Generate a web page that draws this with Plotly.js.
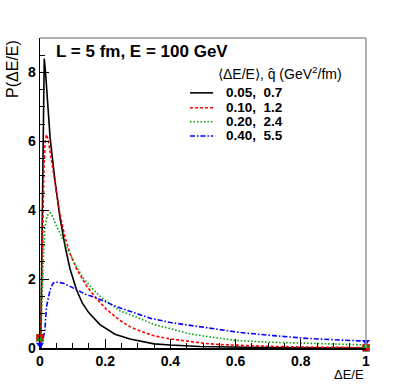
<!DOCTYPE html>
<html>
<head>
<meta charset="utf-8">
<script src="https://cdn.plot.ly/plotly-3.0.1.min.js"></script>
<style>
  html, body { margin: 0; padding: 0; background: #fff; }
  #grafico { width: 407px; height: 387px; }
</style>
</head>
<body>
<div id="grafico"></div>
<script>
// Energy-loss probability P(ΔE/E), L = 5 fm, E = 100 GeV, four quenching strengths

const labels = ['0.05,\u00a0 0.7', '0.10,\u00a0 1.2', '0.20,\u00a0 2.4', '0.40,\u00a0 5.5'];
const colors = ['#000000', '#ff0000', '#00a000', '#0000ff'];
const dashes = ['solid', '3px,2px', '1.5px,2px', '5px,2px,1.5px,2px'];
const markerSymbols = ['square', 'square', 'triangle-up', 'triangle-down'];

// continuous part of each distribution
const xBlack = [0.002, 0.006, 0.010, 0.013, 0.017, 0.022, 0.031, 0.046, 0.061, 0.077, 0.092, 0.112, 0.13, 0.15, 0.184, 0.23, 0.276, 0.35, 0.4, 0.49, 0.6, 0.7, 0.8, 0.9, 1.0];
const yBlack = [0, 3.0, 5.9, 8.4, 8.0, 7.2, 6.1, 4.85, 3.8, 2.95, 2.3, 1.69, 1.3, 1.02, 0.68, 0.4, 0.26, 0.12, 0.085, 0.045, 0.02, 0.012, 0.006, 0.003, 0.001];

const xRed = [0.002, 0.006, 0.012, 0.016, 0.02, 0.025, 0.03, 0.036, 0.046, 0.061, 0.077, 0.092, 0.112, 0.143, 0.17, 0.204, 0.245, 0.276, 0.3, 0.347, 0.4, 0.45, 0.5, 0.55, 0.6, 0.7, 0.8, 0.9, 1.0];
const yRed = [0, 2.5, 5.2, 6.0, 6.2, 6.05, 5.75, 5.4, 4.9, 3.9, 3.2, 2.75, 2.3, 1.8, 1.47, 1.12, 0.8, 0.62, 0.52, 0.36, 0.26, 0.19, 0.14, 0.1, 0.08, 0.05, 0.03, 0.02, 0.012];

const xGreen = [0.002, 0.006, 0.010, 0.015, 0.022, 0.031, 0.04, 0.046, 0.056, 0.066, 0.08, 0.095, 0.112, 0.135, 0.164, 0.19, 0.225, 0.245, 0.3, 0.35, 0.4, 0.45, 0.5, 0.55, 0.6, 0.7, 0.8, 0.9, 1.0];
const yGreen = [0, 1.5, 2.6, 3.5, 3.85, 3.93, 3.8, 3.63, 3.45, 3.24, 2.95, 2.65, 2.36, 2.0, 1.69, 1.45, 1.2, 1.08, 0.88, 0.68, 0.56, 0.43, 0.35, 0.28, 0.22, 0.17, 0.14, 0.11, 0.09];

const xBlue = [0.002, 0.008, 0.015, 0.02, 0.031, 0.04, 0.046, 0.055, 0.072, 0.09, 0.112, 0.14, 0.17, 0.2, 0.235, 0.29, 0.34, 0.4, 0.45, 0.5, 0.552, 0.613, 0.715, 0.818, 0.9, 1.0];
const yBlue = [0, 0.2, 0.52, 1.2, 1.69, 1.88, 1.92, 1.91, 1.88, 1.8, 1.69, 1.56, 1.47, 1.35, 1.2, 1.02, 0.86, 0.74, 0.67, 0.6, 0.53, 0.45, 0.36, 0.28, 0.24, 0.2];

// discrete weights at ΔE/E = 0 and ΔE/E = 1
const xEnds = [0, 1];
const endBlack = [0.3, 0.0];
const endRed = [0.3, 0.02];
const endGreen = [0.25, 0.05];
const endBlue = [0.1, 0.18];

const xSeries = [xBlack, xRed, xGreen, xBlue];
const ySeries = [yBlack, yRed, yGreen, yBlue];
const endSeries = [endBlack, endRed, endGreen, endBlue];

const traces = [];
for (let i = 0; i < 4; i++) {
    traces.push({
        x: xSeries[i],
        y: ySeries[i],
        type: 'scatter',
        mode: 'lines',
        line: { color: colors[i], width: 1.6, dash: dashes[i] },
        showlegend: false,
        cliponaxis: false
    });
}
for (let i = 0; i < 4; i++) {
    traces.push({
        x: xEnds,
        y: endSeries[i],
        type: 'scatter',
        mode: 'markers',
        marker: { color: colors[i], size: 7, symbol: markerSymbols[i] },
        showlegend: false,
        cliponaxis: false
    });
}

const font = 'Liberation Sans, Arial, sans-serif';

// frame (gray top/right like ROOT) and hand-made legend
const shapes = [
    { type: 'line', xref: 'paper', yref: 'paper', x0: 0, x1: 1, y0: 1, y1: 1, line: { color: '#999', width: 1.5 } },
    { type: 'line', xref: 'paper', yref: 'paper', x0: 1, x1: 1, y0: 0, y1: 1, line: { color: '#999', width: 1.5 } }
];
const annotations = [
    { xref: 'paper', yref: 'paper', x: 0.043, y: 0.955, xanchor: 'left', yanchor: 'middle', showarrow: false,
      text: '<b>L = 5 fm, E = 100 GeV</b>', font: { family: font, size: 17, color: '#000' } },
    { xref: 'paper', yref: 'paper', x: 0.54, y: 0.887, xanchor: 'left', yanchor: 'middle', showarrow: false,
      text: '\u27e8\u0394E/E\u27e9, q\u0302 (GeV<sup>2</sup>/fm)', font: { family: font, size: 14, color: '#000' } },
    { xref: 'paper', yref: 'paper', x: -0.086, y: 1, xanchor: 'center', yanchor: 'top', showarrow: false, textangle: -90,
      text: 'P(\u0394E/E)', font: { family: font, size: 16, color: '#000' } },
    { xref: 'paper', yref: 'paper', x: 1, y: -0.084, xanchor: 'right', yanchor: 'middle', showarrow: false,
      text: '\u0394E/E', font: { family: font, size: 13, color: '#000' } }
];
const legendY = [0.823, 0.775, 0.730, 0.684];
for (let i = 0; i < 4; i++) {
    shapes.push({ type: 'line', xref: 'paper', yref: 'paper', x0: 0.46, x1: 0.531, y0: legendY[i], y1: legendY[i],
        line: { color: colors[i], width: 1.6, dash: dashes[i] } });
    annotations.push({ xref: 'paper', yref: 'paper', x: 0.564, y: legendY[i], xanchor: 'left', yanchor: 'middle',
        showarrow: false, text: '<b>' + labels[i] + '</b>', font: { family: font, size: 13.5, color: '#000' } });
}

const layout = {
    width: 407,
    height: 387,
    margin: { l: 40, r: 41, t: 38, b: 39 },
    paper_bgcolor: '#fff',
    plot_bgcolor: '#fff',
    showlegend: false,
    font: { family: font, color: '#000' },
    xaxis: {
        range: [0, 1],
        tickvals: [0, 0.2, 0.4, 0.6, 0.8, 1],
        ticktext: ['<b>0</b>', '<b>0.2</b>', '<b>0.4</b>', '<b>0.6</b>', '<b>0.8</b>', '<b>1</b>'],
        ticks: 'inside', ticklen: 9, tickcolor: '#000', tickwidth: 1,
        minor: { dtick: 0.05, tick0: 0, ticks: 'inside', ticklen: 5, tickcolor: '#000' },
        showgrid: false, zeroline: false,
        showline: true, linecolor: '#000', linewidth: 1.5,
        tickfont: { family: font, size: 14, color: '#000' }
    },
    yaxis: {
        range: [0, 9],
        tickvals: [0, 2, 4, 6, 8],
        ticktext: ['<b>0</b>', '<b>2</b>', '<b>4</b>', '<b>6</b>', '<b>8</b>'],
        ticks: 'inside', ticklen: 9, tickcolor: '#000', tickwidth: 1,
        minor: { dtick: 0.5, tick0: 0, ticks: 'inside', ticklen: 5, tickcolor: '#000' },
        showgrid: false, zeroline: false,
        showline: true, linecolor: '#000', linewidth: 1.5,
        tickfont: { family: font, size: 14, color: '#000' }
    },
    shapes: shapes,
    annotations: annotations
};

Plotly.newPlot('grafico', traces, layout, { staticPlot: true });
</script>
</body>
</html>
